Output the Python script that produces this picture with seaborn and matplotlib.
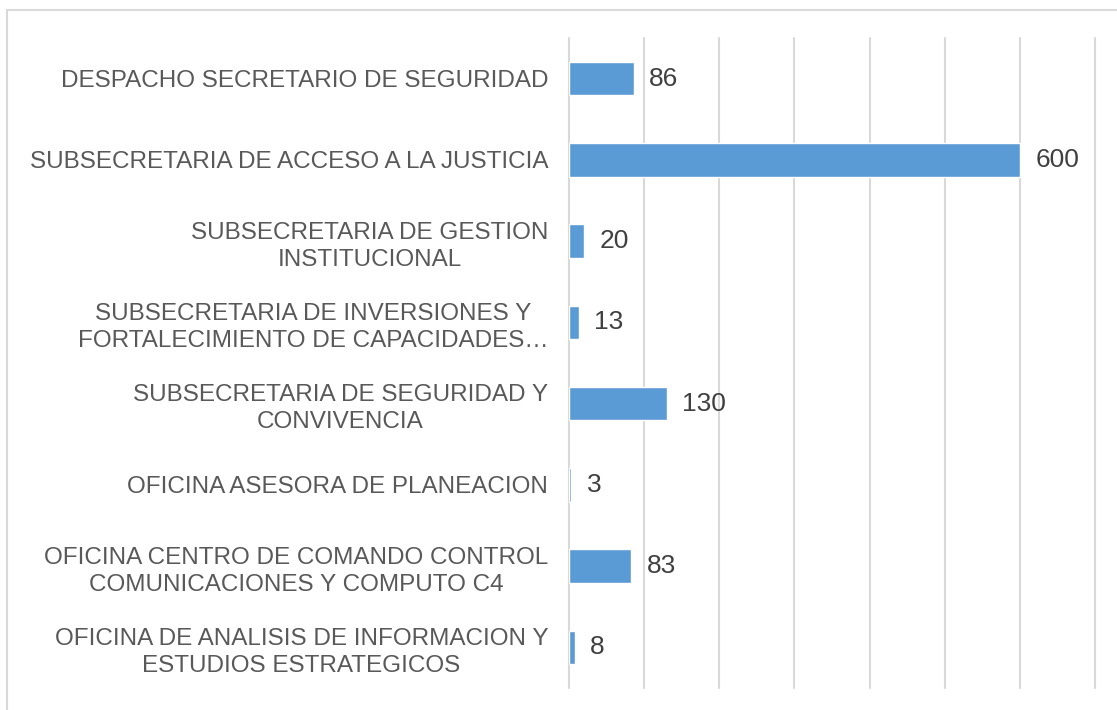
import matplotlib
matplotlib.use("Agg")
import matplotlib.pyplot as plt
import matplotlib.patches as patches
import pandas as pd
import seaborn as sns

categories = [
    "DESPACHO SECRETARIO DE SEGURIDAD",
    "SUBSECRETARIA DE ACCESO A LA JUSTICIA",
    "SUBSECRETARIA DE GESTION\nINSTITUCIONAL",
    "SUBSECRETARIA DE INVERSIONES Y\nFORTALECIMIENTO DE CAPACIDADES…",
    "SUBSECRETARIA DE SEGURIDAD Y\nCONVIVENCIA",
    "OFICINA ASESORA DE PLANEACION",
    "OFICINA CENTRO DE COMANDO CONTROL\nCOMUNICACIONES Y COMPUTO C4",
    "OFICINA DE ANALISIS DE INFORMACION Y\nESTUDIOS ESTRATEGICOS",
]
values = [86, 600, 20, 13, 130, 3, 83, 8]
x_ticks = [0, 100, 200, 300, 400, 500, 600, 700]

sns.set_style("white")
plt.rcParams["font.family"] = ["Liberation Sans", "DejaVu Sans"]

df = pd.DataFrame({"area": categories, "total": values})

fig = plt.figure(figsize=(11.17, 7.10), dpi=100)
ax = fig.add_axes([569 / 1117, 1 - 688 / 710, (1095 - 569) / 1117, 650 / 710])

sns.barplot(data=df, x="total", y="area", orient="h", color="#5B9BD5",
            saturation=1, width=0.41, ax=ax, zorder=3)

ax.set_xlim(0, 700)
ax.set_xticks(x_ticks)
ax.set_xticklabels([])
ax.xaxis.grid(True, color="#D9D9D9", linewidth=1.5, zorder=0)
for line in ax.get_xgridlines():
    line.set_clip_on(False)
ax.tick_params(axis="both", length=0)
ax.tick_params(axis="y", pad=15, labelsize=17.5, labelcolor="#595959")
for lbl in ax.get_yticklabels():
    lbl.set_multialignment("center")
    lbl.set_linespacing(1.3)
for s in ax.spines.values():
    s.set_visible(False)
ax.set_xlabel("")
ax.set_ylabel("")

ax.bar_label(ax.containers[0], padding=11, fontsize=19, color="#404040")

fig.patches.append(patches.Rectangle(
    (7 / 1117, -0.05), 1.1, 1.05 - 10 / 710, transform=fig.transFigure,
    fill=False, edgecolor="#D9D9D9", linewidth=1.5))

fig.savefig("out.png", dpi=100)
